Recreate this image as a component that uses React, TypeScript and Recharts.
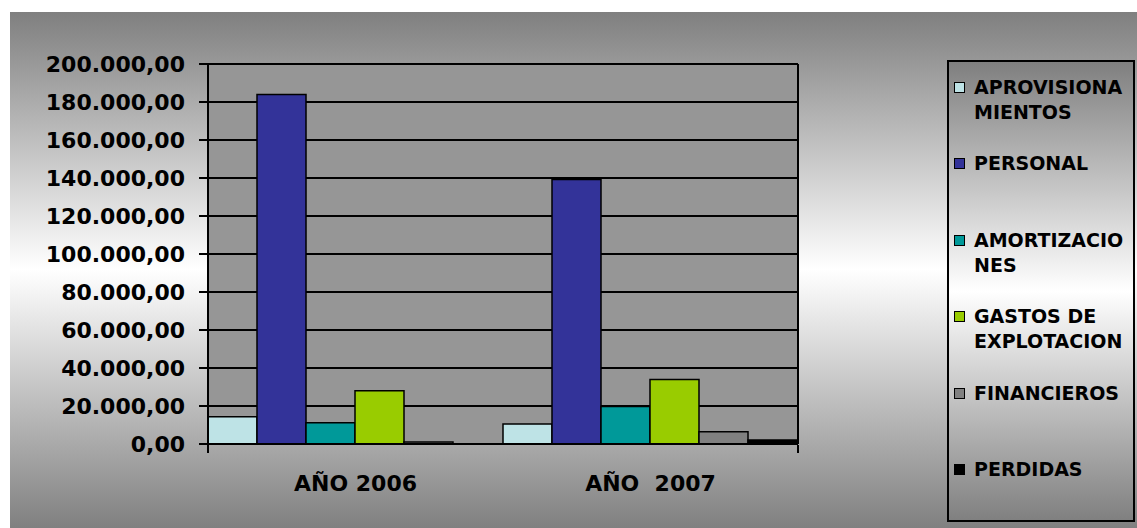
import React from "react";
import {
  ComposedChart,
  Bar,
  XAxis,
  YAxis,
  CartesianGrid,
  Legend,
} from "recharts";

const categories = ["AÑO 2006", "AÑO  2007"];
const aprovisionamientos = [14400, 10500];
const personal = [183900, 139200];
const amortizaciones = [11200, 19700];
const gastosExplotacion = [28000, 33900];
const financieros = [1100, 6400];
const perdidas = [0, 2100];
const yTicks = [0, 20000, 40000, 60000, 80000, 100000, 120000, 140000, 160000, 180000, 200000];

const series = [
  { key: "aprov", name: "APROVISIONA\nMIENTOS", color: "#BEE3E6", values: aprovisionamientos },
  { key: "personal", name: "PERSONAL", color: "#333399", values: personal },
  { key: "amort", name: "AMORTIZACIO\nNES", color: "#009999", values: amortizaciones },
  { key: "gastos", name: "GASTOS DE\nEXPLOTACION", color: "#99CC00", values: gastosExplotacion },
  { key: "fin", name: "FINANCIEROS", color: "#808080", values: financieros },
  { key: "perd", name: "PERDIDAS", color: "#000000", values: perdidas },
];

const data = categories.map((name, i) => {
  const row: { name: string; [k: string]: string | number } = { name };
  series.forEach((s) => (row[s.key] = s.values[i]));
  return row;
});

const FONT = "'DejaVu Sans', Verdana, sans-serif";
const GRADIENT = "linear-gradient(to bottom, #7f7f7f 0%, #ffffff 50%, #808080 100%)";

const fmt = (v: number) =>
  Math.round(v).toString().replace(/\B(?=(\d{3})+(?!\d))/g, ".") + ",00";

const CategoryTick = (props: any) => {
  const { x, y, payload } = props;
  return (
    <text
      x={x}
      y={y}
      dy="0.71em"
      textAnchor="middle"
      fill="#000"
      fontFamily={FONT}
      fontWeight="bold"
      fontSize={22}
      style={{ whiteSpace: "pre" }}
    >
      {payload.value}
    </text>
  );
};

// legend keeps the series order (recharts sorts by name otherwise)
const LegendBox = (props: any) => {
  const { payload = [] } = props;
  const ordered = series
    .map((s) => payload.find((p: any) => p.dataKey === s.key) || { value: s.name, color: s.color })
    .map((p: any, i: number) => ({ value: p.value, color: series[i].color }));
  return (
    <div
      style={{
        width: 188,
        height: 462,
        boxSizing: "border-box",
        border: "2px solid #000",
        background: GRADIENT,
        paddingTop: 13,
        fontFamily: FONT,
        fontWeight: "bold",
        fontSize: 19,
        lineHeight: "25px",
        color: "#000",
      }}
    >
      {ordered.map((entry: any) => (
        <div key={entry.value} style={{ position: "relative", height: 76.4 }}>
          <div
            style={{
              position: "absolute",
              left: 5,
              top: 7,
              width: 9,
              height: 9,
              background: entry.color,
              border: "1.5px solid #000",
            }}
          />
          <div style={{ position: "absolute", left: 25, top: 0, whiteSpace: "pre" }}>
            {entry.value}
          </div>
        </div>
      ))}
    </div>
  );
};

export default function App() {
  return (
    <div style={{ position: "absolute", left: 0, top: 0, width: 1137, height: 528, background: "#fff" }}>
      <div
        style={{
          position: "absolute",
          left: 10,
          top: 12,
          width: 1127,
          height: 516,
          background: GRADIENT,
        }}
      />
      <div style={{ position: "absolute", left: 0, top: 0 }}>
        <ComposedChart
          width={1137}
          height={528}
          data={data}
          margin={{ top: 64, right: 338, bottom: 23, left: 0 }}
          barCategoryGap={0}
          barGap={0}
        >
          <CartesianGrid
            vertical={false}
            stroke="#000"
            strokeWidth={2}
            fill="#969696"
            fillOpacity={1}
          />
          <XAxis
            dataKey="name"
            height={1}
            tickLine={false}
            tickSize={0}
            tickMargin={31}
            axisLine={{ stroke: "#000", strokeWidth: 2 }}
            tick={<CategoryTick />}
            interval={0}
          />
          <XAxis
            xAxisId="marks"
            type="number"
            domain={[0, 2]}
            ticks={[0, 1, 2]}
            interval={0}
            height={60}
            axisLine={false}
            tickSize={8}
            tickLine={{ stroke: "#000", strokeWidth: 2 }}
            tick={() => <g />}
          />
          <YAxis
            width={208}
            domain={[0, 200000]}
            ticks={yTicks}
            interval={0}
            tickFormatter={fmt}
            tickSize={9}
            tickMargin={14}
            tickLine={{ stroke: "#000", strokeWidth: 2 }}
            axisLine={{ stroke: "#000", strokeWidth: 2 }}
            tick={{ fill: "#000", fontFamily: FONT, fontWeight: "bold", fontSize: 22 }}
          />
          <YAxis
            yAxisId="right"
            orientation="right"
            width={1}
            domain={[0, 200000]}
            tick={false}
            tickLine={false}
            axisLine={{ stroke: "#000", strokeWidth: 2 }}
          />
          <Legend
            layout="vertical"
            align="center"
            verticalAlign="middle"
            content={<LegendBox />}
            wrapperStyle={{ left: 947, top: 60, right: "auto", bottom: "auto", width: 188, height: 462 }}
          />
          {series.map((s) => (
            <Bar
              key={s.key}
              dataKey={s.key}
              name={s.name}
              fill={s.color}
              stroke="#000"
              strokeWidth={1.5}
              isAnimationActive={false}
            />
          ))}
        </ComposedChart>
      </div>
    </div>
  );
}
